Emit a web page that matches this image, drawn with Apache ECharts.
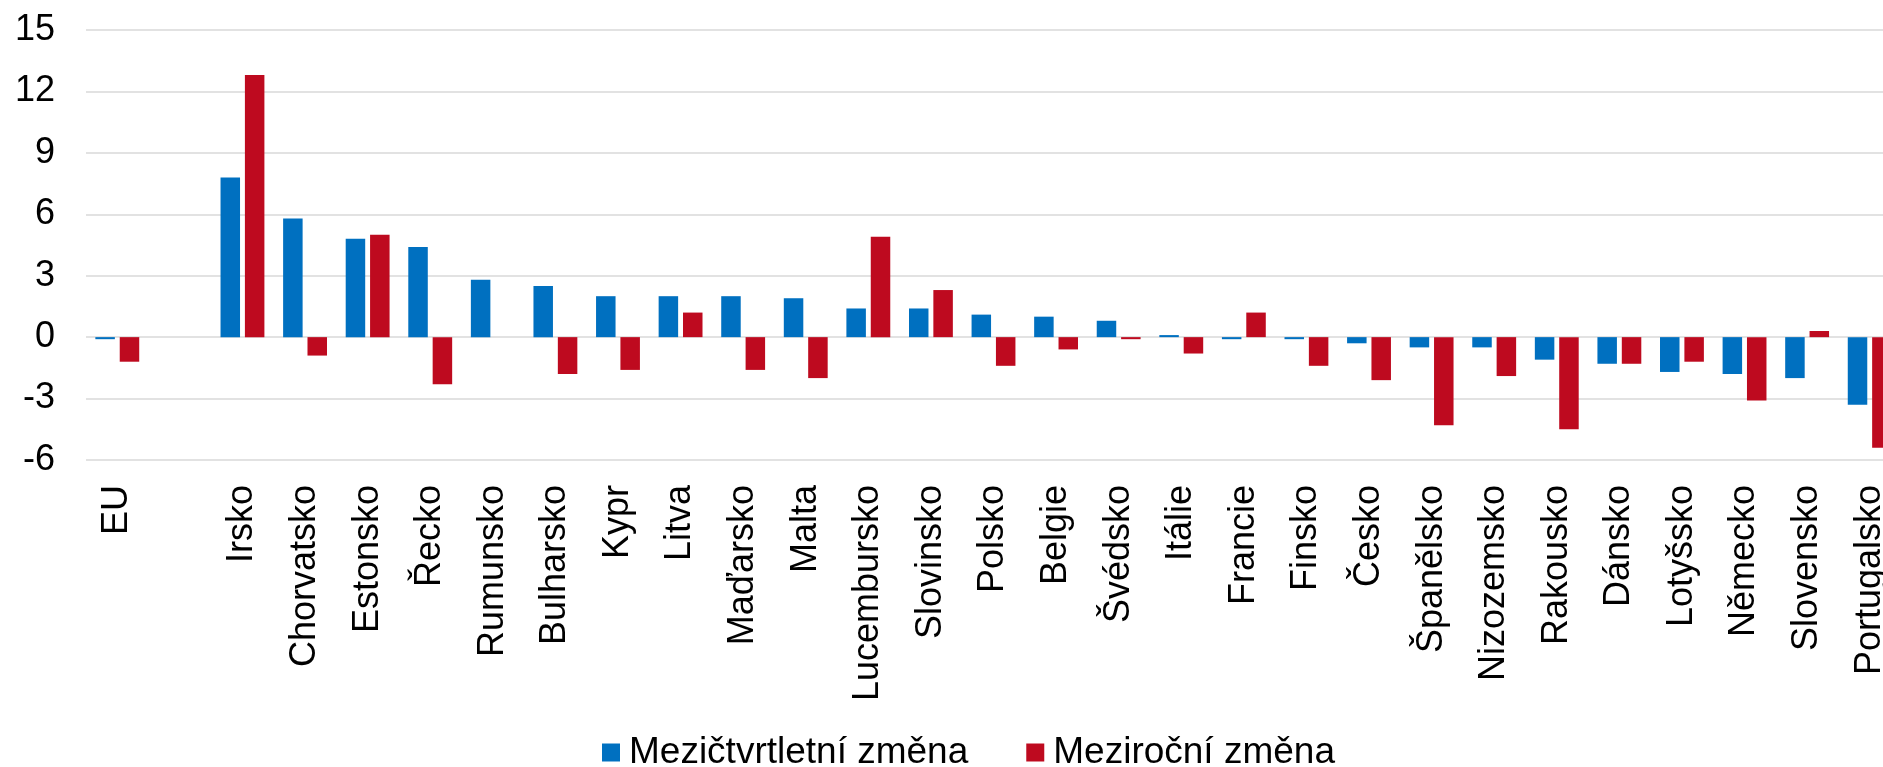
<!DOCTYPE html>
<html>
<head>
<meta charset="utf-8">
<script src="https://cdn.jsdelivr.net/npm/echarts@6/dist/echarts.min.js"></script>
<style>
  html, body { margin: 0; padding: 0; background: #fff; }
  #main { width: 1883px; height: 767px; }
</style>
</head>
<body>
<div id="main"></div>
<script>
// kategorie (prázdná mezera za EU)
var categories = ['EU', '', 'Irsko', 'Chorvatsko', 'Estonsko', 'Řecko', 'Rumunsko', 'Bulharsko', 'Kypr', 'Litva',
    'Maďarsko', 'Malta', 'Lucembursko', 'Slovinsko', 'Polsko', 'Belgie', 'Švédsko', 'Itálie', 'Francie', 'Finsko',
    'Česko', 'Španělsko', 'Nizozemsko', 'Rakousko', 'Dánsko', 'Lotyšsko', 'Německo', 'Slovensko', 'Portugalsko'];

// mezičtvrtletní změna
var qoq = [-0.1, null, 7.8, 5.8, 4.8, 4.4, 2.8, 2.5, 2.0, 2.0,
    2.0, 1.9, 1.4, 1.4, 1.1, 1.0, 0.8, 0.1, -0.1, -0.1,
    -0.3, -0.5, -0.5, -1.1, -1.3, -1.7, -1.8, -2.0, -3.3];

// meziroční změna
var yoy = [-1.2, null, 12.8, -0.9, 5.0, -2.3, null, -1.8, -1.6, 1.2,
    -1.6, -2.0, 4.9, 2.3, -1.4, -0.6, -0.1, -0.8, 1.2, -1.4,
    -2.1, -4.3, -1.9, -4.5, -1.3, -1.2, -3.1, 0.3, -5.4];

var seriesNames = ['Mezičtvrtletní změna', 'Meziroční změna'];

// osa y
var yMin = -6, yMax = 15, yStep = 3;

var font = 'Liberation Sans, Arial, sans-serif';

var myChart = echarts.init(document.getElementById('main'));

var option = {
    animation: false,
    backgroundColor: '#fff',
    textStyle: { fontFamily: font, color: '#000' },
    grid: {
        left: 86,
        top: 30,
        width: 1815,
        height: 430,
        containLabel: false,
        outerBoundsMode: 'none'
    },
    legend: {
        data: seriesNames,
        left: 597,
        top: 729,
        itemWidth: 18,
        itemHeight: 18,
        itemGap: 58,
        icon: 'rect',
        textStyle: { fontFamily: font, fontSize: 37, color: '#000', padding: [0, 0, 0, 4] }
    },
    xAxis: {
        type: 'category',
        data: categories,
        position: 'bottom',
        axisLine: { show: false },
        axisTick: { show: false },
        axisLabel: {
            interval: 0,
            rotate: 90,
            margin: 25,
            fontFamily: font,
            fontSize: 36,
            color: '#000'
        }
    },
    yAxis: {
        type: 'value',
        min: yMin,
        max: yMax,
        interval: yStep,
        axisLine: { show: false },
        axisTick: { show: false },
        splitLine: { lineStyle: { color: '#d9d9d9', width: 1.5 } },
        axisLabel: {
            margin: 31,
            fontFamily: font,
            fontSize: 36,
            color: '#000'
        }
    },
    series: [{
        name: seriesNames[0],
        type: 'bar',
        data: qoq,
        barWidth: 19.5,
        barGap: '25%',
        itemStyle: { color: '#0070c0' }
    }, {
        name: seriesNames[1],
        type: 'bar',
        data: yoy,
        barWidth: 19.5,
        barGap: '25%',
        itemStyle: { color: '#be0a1f' }
    }]
};

myChart.setOption(option);
</script>
</body>
</html>
